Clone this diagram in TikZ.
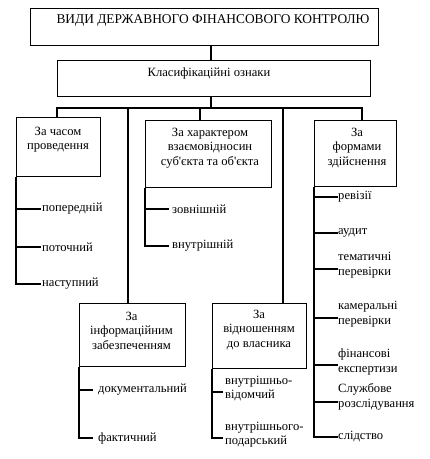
\documentclass[tikz,border=0pt]{standalone}
\usepackage{fontspec}
\setmainfont{Liberation Serif}
\newfontfamily\schemefont{Liberation Serif}
\usetikzlibrary{positioning}

\tikzset{
	box/.style={draw, line width=1.3pt, anchor=north west, inner sep=0pt},
	head/.style={align=center, inner sep=0pt, font=\schemefont\fontsize{12.6}{14.5}\selectfont},
	item/.style={anchor=west, align=left, inner sep=0pt, font=\schemefont\fontsize{12.6}{14.5}\selectfont},
	link/.style={line width=1.3pt},
}

\begin{document}
\begin{tikzpicture}[x=1pt, y=-1pt, line cap=rect, line join=miter]
			\useasboundingbox (0,0) rectangle (430,459);
			
			% Top boxes
			\node[box, minimum width=348pt, minimum height=37pt] (title) at (30,8) {};
			\node[head, font=\schemefont\fontsize{13.4}{15}\selectfont] (titletxt) at (213,20) {ВИДИ ДЕРЖАВНОГО ФІНАНСОВОГО КОНТРОЛЮ};
			\node[box, minimum width=313pt, minimum height=36pt] (ozn) at (57,60) {};
			\node[head] (ozntxt) at (209,73) {Класифікаційні ознаки};
			
			% Bus under the classification box
			\coordinate (hub) at (211,108);
			\coordinate (busL) at (57,108);
			\coordinate (busR) at (362,108);
			\draw[link] (title.south -| hub) -- (ozn.north -| hub);
			\draw[link] (ozn.south -| hub) -- (hub);
			\draw[link] (busL) -- (busR);
			
			% Group boxes
			\node[box, minimum width=84pt, minimum height=59pt] (chas) at (16,117) {};
			\node[head] at (58,139.5) {За часом\\проведення};
			\node[box, minimum width=126pt, minimum height=67pt] (vzaiem) at (145,120) {};
			\node[head] at (210,148) {За характером\\взаємовідносин\\суб'єкта та об'єкта};
			\node[box, minimum width=82pt, minimum height=66pt] (formy) at (314,120) {};
			\node[head] at (357,148) {За\\формами\\здійснення};
			\node[box, minimum width=106pt, minimum height=63pt] (info) at (79,303) {};
			\node[head] at (131.5,330.5) {За\\інформаційним\\забезпеченням};
			\node[box, minimum width=94pt, minimum height=65pt] (vlasn) at (212,303) {};
			\node[head] at (259,330) {За\\відношенням\\до власника};
			
			% Drops from the bus
			\draw[link] (busL) -- (busL |- chas.north);
			\draw[link] (128,108) -- (info.north -| 128,0);
			\draw[link] (200,108) -- (vzaiem.north -| 200,0);
			\draw[link] (283,108) -- (vlasn.north -| 283,0);
			\draw[link] (busR) -- (busR |- formy.north);
			
			% За часом проведення
			\foreach \y/\t [count=\i] in {209/попередній, 247/поточний, 284/наступний}{
				\node[item] (chas\i) at (42,\y) {\t};
				\draw[link] (chas.south west |- 0,\y) -- ++(24,0);
			}
			\draw[link] (chas.south west) -- (chas.south west |- 0,284);
			
			% За характером
			\foreach \y/\t [count=\i] in {209/зовнішній, 246/внутрішній}{
				\node[item] (vzaiem\i) at (172,\y) {\t};
				\draw[link] (vzaiem.south west |- 0,\y) -- ++(23,0);
			}
			\draw[link] (vzaiem.south west) -- (vzaiem.south west |- 0,246);
			
			% За формами здійснення
			\foreach \y/\s/\t [count=\i] in {197/0/ревізії, 233/0/аудит,
				269/4/{тематичні\\перевірки}, 318/4/{камеральні\\перевірки},
				365/3/{фінансові\\експертизи}, 402/5/{Службове\\розслідування},
				437/0/слідство}{
				\node[item, yshift=\s pt] (form\i) at (338,\y) {\t};
				\draw[link] (formy.south west |- 0,\y) -- ++(23,0);
			}
			\draw[link] (formy.south west) -- (formy.south west |- 0,437);
			
			% За інформаційним забезпеченням
			\foreach \y/\t [count=\i] in {390/документальний, 438/фактичний}{
				\node[item] (info\i) at (98,\y) {\t};
				\draw[link] (info.south west |- 0,\y) -- ++(13,0);
			}
			\draw[link] (info.south west) -- (info.south west |- 0,438);
			
			% За відношенням до власника
			\foreach \y/\t [count=\i] in {392/{внутрішньо-\\відомчий}, 438/{внутрішнього-\\подарський}}{
				\node[item, yshift=3.5pt] (vlasn\i) at (225,\y) {\t};
				\draw[link] (vlasn.south west |- 0,\y) -- ++(10,0);
			}
			\draw[link] (vlasn.south west) -- (vlasn.south west |- 0,438);
		\end{tikzpicture}
\end{document}
